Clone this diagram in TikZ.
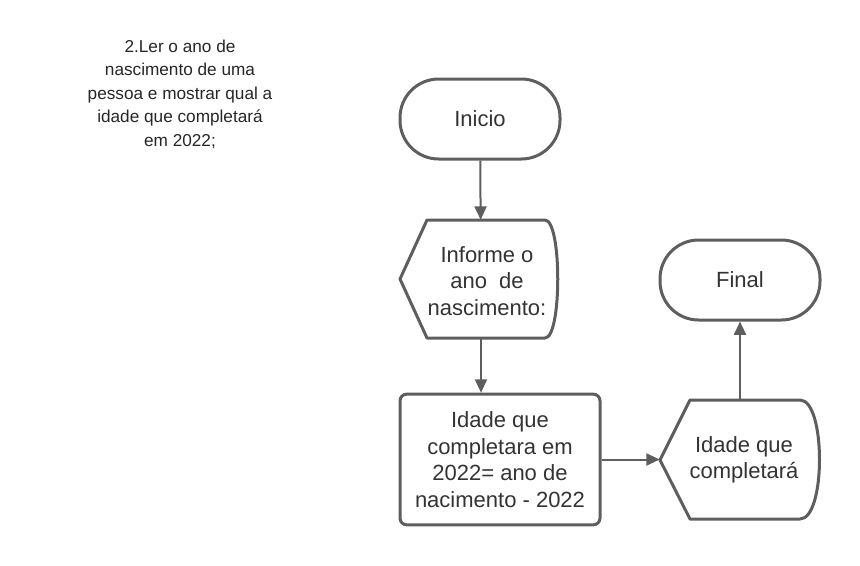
\documentclass[tikz,border=0pt]{standalone}
\usepackage{fontspec}
\setmainfont{Liberation Sans}
\usepackage{xcolor}
\usetikzlibrary{arrows.meta}
\definecolor{linha}{HTML}{5E5E5E}
\definecolor{texto}{HTML}{333333}

\begin{document}
\begin{tikzpicture}[x=0.75pt,y=0.75pt,yscale=-1,xscale=1,
  terminal/.style={draw=linha,line width=2.25pt,rounded corners=29pt,minimum width=120pt,minimum height=60pt,inner sep=0.75pt,text=texto,font=\fontsize{16.5pt}{19.9pt}\selectfont,align=center},
  processo/.style={draw=linha,line width=2.25pt,rounded corners=5pt,minimum width=150pt,minimum height=98pt,inner sep=0.75pt,text=texto,font=\fontsize{16.5pt}{19.9pt}\selectfont,align=center},
  tela/.style={draw=linha,line width=2.25pt,line join=round},
  telatexto/.style={minimum width=120pt,minimum height=90pt,inner sep=0.75pt,text=texto,font=\fontsize{16.5pt}{19.9pt}\selectfont,align=center},
  seta/.style={draw=linha,line width=1.5pt,-{Triangle[length=10pt,width=9pt]}}]
\useasboundingbox (0,0) rectangle (860,565);

% Text Node
\node (enunciado) at (180,94) [inner sep=0.75pt,text=black!85,font=\fontsize{12.9pt}{17.6pt}\selectfont,align=center] {2.Ler o ano de\\nascimento de uma\\pessoa e mostrar qual a\\idade que completará\\em 2022;};

% Terminal
\node (inicio) at (480,119) [terminal] {Inicio};

% Display
\draw [tela] (400,279) -- (427,220) -- (545,220) .. controls (562,220) and (562,338) .. (545,338) -- (427,338) -- cycle;
\node (informe) at (481,279) [telatexto,minimum width=121.5pt,minimum height=88.5pt] {};
\node at (487,281) [inner sep=0.75pt,text=texto,font=\fontsize{16.5pt}{19.9pt}\selectfont,align=center] {Informe o\\ano\ \ de\\nascimento:};

% Process
\node (calcula) at (500,459.5) [processo] {Idade que\\completara em\\2022= ano de\\nacimento - 2022};

% Display
\draw [tela] (660,460) -- (690,400) -- (800,400) .. controls (826,400) and (826,519) .. (800,519) -- (690,519) -- cycle;
\node (idade) at (740,459.5) [telatexto,minimum width=120pt,minimum height=89pt] {};
\node at (744,460) [inner sep=0.75pt,text=texto,font=\fontsize{16.5pt}{19.9pt}\selectfont,align=center] {Idade que\\completará};

% Terminal
\node (final) at (740,280) [terminal] {Final};

%Straight Lines
\draw [seta] (inicio) -- (informe);
\draw [seta] (informe.south) -- (informe.south |- calcula.north);
\draw [seta] (calcula.east) -- (idade.west);
\draw [seta] (idade.north) -- (final.south);

\end{tikzpicture}
\end{document}
